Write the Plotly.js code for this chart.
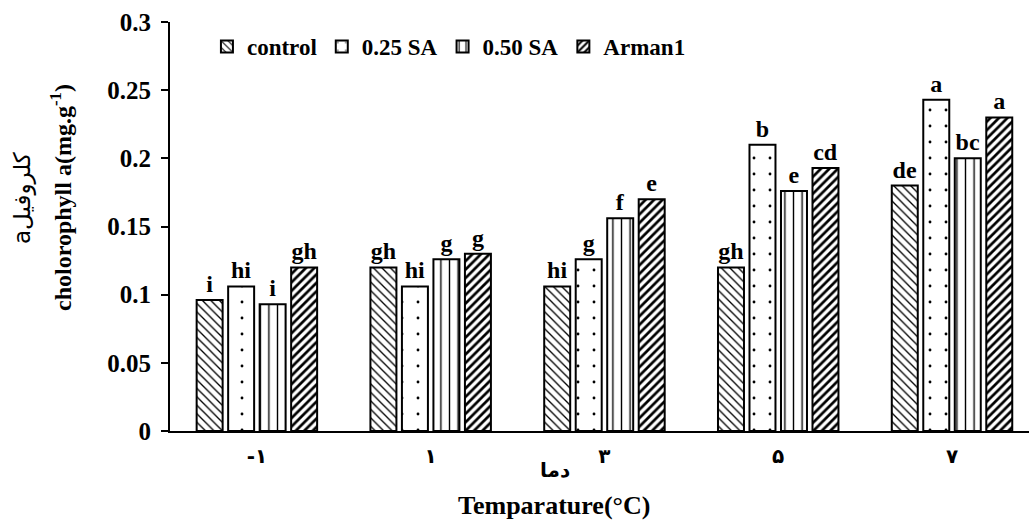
<!DOCTYPE html>
<html>
<head>
<meta charset="utf-8">
<script src="https://cdn.plot.ly/plotly-3.0.1.min.js"></script>
<style>html,body{margin:0;padding:0;background:#fff;}#chart{width:1029px;height:520px;}</style>
</head>
<body>
<div id="chart"></div>
<script>
const categories = ["-۱", "۱", "۳", "۵", "۷"];
const seriesNames = ["control", "0.25 SA", "0.50 SA", "Arman1"];
const controlVals = [0.096, 0.120, 0.106, 0.120, 0.180];
const sa025Vals   = [0.106, 0.106, 0.126, 0.210, 0.243];
const sa050Vals   = [0.093, 0.126, 0.156, 0.176, 0.200];
const armanVals   = [0.120, 0.130, 0.170, 0.193, 0.230];
const controlLetters = ["i", "gh", "hi", "gh", "de"];
const sa025Letters   = ["hi", "hi", "g", "b", "a"];
const sa050Letters   = ["i", "g", "f", "e", "bc"];
const armanLetters   = ["gh", "g", "e", "cd", "a"];
const yTickVals = [0, 0.05, 0.1, 0.15, 0.2, 0.25, 0.3];
const yTickText = ["0", "0.05", "0.1", "0.15", "0.2", "0.25", "0.3"];

const FONT = "Liberation Serif, Times New Roman, DejaVu Sans, serif";
const patterns = [
  {shape: "\\", size: 6, solidity: 0.22, fgcolor: "#000", bgcolor: "#fff"},
  {shape: ".", size: 16, solidity: 0.025, fgcolor: "#000", bgcolor: "#fff"},
  {shape: "|", size: 8.6, solidity: 0.16, fgcolor: "#000", bgcolor: "#fff"},
  {shape: "/", size: 6, solidity: 0.45, fgcolor: "#000", bgcolor: "#fff"}
];
const values = [controlVals, sa025Vals, sa050Vals, armanVals];
const letters = [controlLetters, sa025Letters, sa050Letters, armanLetters];

const traces = seriesNames.map((name, i) => ({
  type: "bar",
  name: name,
  x: categories,
  y: values[i],
  text: letters[i],
  textposition: "outside",
  constraintext: "none",
  cliponaxis: false,
  textfont: {family: FONT, size: 24, weight: "bold", color: "#000"},
  marker: {color: "#fff", line: {color: "#000", width: 2}, pattern: patterns[i]},
  hoverinfo: "none"
}));

const layout = {
  width: 1029, height: 520,
  margin: {l: 170, r: 0, t: 22, b: 89},
  paper_bgcolor: "#fff", plot_bgcolor: "#fff",
  barmode: "group", bargap: 0.275, bargroupgap: 0.175,
  showlegend: true,
  legend: {
    orientation: "h", x: 0.043, xanchor: "left", y: 0.94, yanchor: "middle",
    font: {family: FONT, size: 23, weight: "bold", color: "#000"},
    bgcolor: "rgba(0,0,0,0)", traceorder: "normal"
  },
  xaxis: {
    type: "category", range: [-0.5, 4.443],
    showline: true, linecolor: "#000", linewidth: 2,
    ticks: "", showgrid: false, zeroline: false,
    tickfont: {family: "DejaVu Sans", size: 20, weight: "bold", color: "#000"},
    ticklabelstandoff: 6
  },
  yaxis: {
    range: [0, 0.3], tickvals: yTickVals, ticktext: yTickText,
    showline: true, linecolor: "#000", linewidth: 2,
    ticks: "outside", ticklen: 7, tickwidth: 2, tickcolor: "#000",
    showgrid: false, zeroline: false,
    tickfont: {family: FONT, size: 25, weight: "bold", color: "#000"},
    ticklabelstandoff: 5
  },
  annotations: [
    {xref: "paper", yref: "paper", x: (22 - 170) / 859, y: 1 - (198 - 22) / 409,
     text: "aکلروفیل", textangle: -90, showarrow: false, xanchor: "center", yanchor: "middle",
     font: {family: "DejaVu Sans, " + FONT, size: 23, color: "#000"}},
    {xref: "paper", yref: "paper", x: (61 - 170) / 859, y: 1 - (198 - 22) / 409,
     text: "cholorophyll a(mg.g<sup>-1</sup>)", textangle: -90, showarrow: false, xanchor: "center", yanchor: "middle",
     font: {family: FONT, size: 24, weight: "bold", color: "#000"}},
    {xref: "paper", yref: "paper", x: (555 - 170) / 859, y: -(470 - 431) / 409,
     text: "دما", showarrow: false, xanchor: "center", yanchor: "middle",
     font: {family: "DejaVu Sans", size: 20, weight: "bold", color: "#000"}},
    {xref: "paper", yref: "paper", x: (554 - 170) / 859, y: -(505 - 431) / 409,
     text: "Temparature(°C)", showarrow: false, xanchor: "center", yanchor: "middle",
     font: {family: FONT, size: 26, weight: "bold", color: "#000"}}
  ]
};

Plotly.newPlot("chart", traces, layout, {staticPlot: true, displayModeBar: false});
</script>
</body>
</html>
